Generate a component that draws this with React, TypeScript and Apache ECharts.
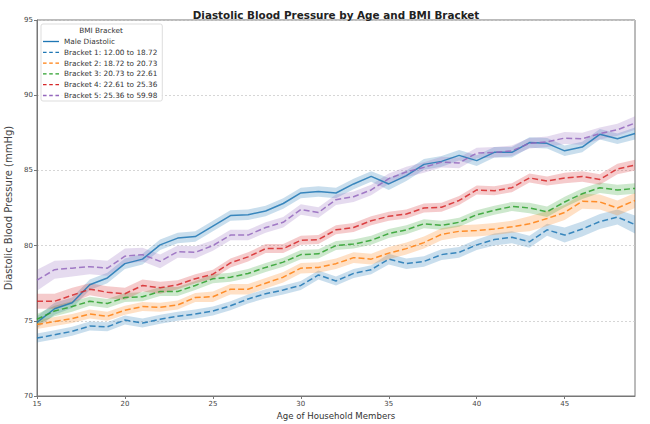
import React, { useEffect, useRef } from "react";
import * as echarts from "echarts";

const ages = [15,16,17,18,19,20,21,22,23,24,25,26,27,28,29,30,31,32,33,34,35,36,37,38,39,40,41,42,43,44,45,46,47,48,49];

const seriesNames = [
  "Male Diastolic",
  "Bracket 1: 12.00 to 18.72",
  "Bracket 2: 18.72 to 20.73",
  "Bracket 3: 20.73 to 22.61",
  "Bracket 4: 22.61 to 25.36",
  "Bracket 5: 25.36 to 59.98",
];

const male = [74.9,75.8,76.2,77.4,77.85,78.8,79.1,80.05,80.5,80.6,81.3,82.0,82.05,82.3,82.8,83.5,83.6,83.5,84.1,84.6,84.1,84.65,85.4,85.6,86.0,85.65,86.2,86.2,86.85,86.8,86.3,86.55,87.4,87.1,87.45];
const bracket1 = [73.85,74.07,74.3,74.65,74.6,75.05,74.85,75.1,75.3,75.45,75.65,76.0,76.45,76.8,77.05,77.35,78.05,77.65,78.15,78.4,79.1,78.8,78.95,79.4,79.55,80.05,80.4,80.55,80.25,81.05,80.7,81.1,81.6,81.9,81.4];
const bracket2 = [74.75,74.95,75.15,75.45,75.3,75.7,75.95,75.9,76.05,76.55,76.6,77.1,77.1,77.5,77.9,78.5,78.55,78.8,79.2,79.1,79.5,79.8,80.2,80.75,80.95,81.0,81.1,81.25,81.45,81.8,82.2,82.95,82.9,82.5,83.0];
const bracket3 = [75.1,75.65,75.95,76.3,76.15,76.55,76.6,76.95,76.95,77.35,77.8,77.9,78.15,78.55,78.9,79.4,79.45,80.0,80.1,80.35,80.8,81.05,81.45,81.35,81.55,82.05,82.35,82.6,82.5,82.25,82.9,83.45,83.85,83.7,83.8];
const bracket4 = [76.3,76.3,76.7,77.1,76.9,76.8,77.35,77.2,77.4,77.8,78.1,78.85,79.25,79.8,79.8,80.35,80.4,81.05,81.2,81.65,81.95,82.1,82.5,82.55,83.0,83.7,83.65,83.85,84.5,84.3,84.5,84.6,84.4,85.1,85.35];
const bracket5 = [77.7,78.4,78.5,78.6,78.5,79.3,79.4,78.95,79.6,79.55,80.0,80.7,80.7,81.2,81.55,82.4,82.2,83.05,83.25,83.7,84.45,84.9,85.2,85.55,85.5,86.15,86.2,86.3,86.8,86.9,87.15,87.1,87.45,87.7,88.15];

// half-widths of the shaded confidence bands
const maleCI = [0.4,0.4,0.35,0.35,0.35,0.35,0.35,0.35,0.35,0.35,0.35,0.35,0.35,0.35,0.35,0.35,0.35,0.35,0.35,0.35,0.4,0.35,0.35,0.35,0.35,0.35,0.35,0.35,0.35,0.35,0.35,0.35,0.35,0.35,0.4];
const bracket1CI = [0.3,0.3,0.3,0.3,0.3,0.3,0.3,0.3,0.3,0.3,0.3,0.3,0.3,0.3,0.3,0.3,0.3,0.3,0.3,0.3,0.35,0.35,0.35,0.35,0.35,0.35,0.4,0.4,0.4,0.4,0.5,0.5,0.5,0.5,0.6];
const bracket2CI = [0.3,0.3,0.3,0.3,0.3,0.3,0.3,0.3,0.3,0.3,0.35,0.35,0.35,0.35,0.35,0.35,0.35,0.35,0.35,0.35,0.4,0.4,0.4,0.4,0.4,0.4,0.4,0.4,0.5,0.5,0.5,0.5,0.5,0.5,0.5];
const bracket3CI = [0.35,0.35,0.35,0.3,0.3,0.3,0.3,0.3,0.3,0.3,0.3,0.3,0.3,0.3,0.3,0.3,0.3,0.3,0.3,0.3,0.3,0.3,0.3,0.3,0.3,0.3,0.3,0.3,0.35,0.35,0.35,0.35,0.35,0.35,0.35];
const bracket4CI = [0.5,0.5,0.5,0.4,0.4,0.4,0.4,0.4,0.3,0.3,0.3,0.3,0.3,0.3,0.3,0.3,0.3,0.3,0.3,0.3,0.3,0.3,0.3,0.3,0.3,0.3,0.3,0.3,0.3,0.3,0.35,0.35,0.35,0.35,0.35];
const bracket5CI = [0.7,0.6,0.55,0.5,0.5,0.5,0.45,0.45,0.4,0.4,0.35,0.35,0.35,0.35,0.35,0.35,0.35,0.35,0.35,0.35,0.35,0.35,0.35,0.35,0.35,0.35,0.35,0.35,0.35,0.35,0.4,0.4,0.4,0.4,0.45];

const yTicks = [70, 75, 80, 85, 90, 95];
const xTicks = [15, 20, 25, 30, 35, 40, 45];

const colors = ["#1f77b4", "#1f77b4", "#ff7f0e", "#2ca02c", "#d62728", "#9467bd"];
const lineTypes = ["solid", "dashed", "dashed", "dashed", "dashed", "dashed"];

const SOLID_ICON = "path://M0,0h18v1.5h-18z";
const DASH_ICON = "path://M0,0h4v1.5h-4z M7,0h4v1.5h-4z M14,0h4v1.5h-4z";

export default function App() {
  const ref = useRef<HTMLDivElement>(null);
  useEffect(() => {
    if (!ref.current) return;
    const chart = echarts.init(ref.current, null, { renderer: "svg" });
    const values = [male, bracket1, bracket2, bracket3, bracket4, bracket5];
    const cis = [maleCI, bracket1CI, bracket2CI, bracket3CI, bracket4CI, bracket5CI];
    const font = "DejaVu Sans";

    const bandSeries: any[] = [];
    const lineSeries: any[] = [];
    values.forEach((vals, i) => {
      const ci = cis[i];
      const upper = ages.map((a, k) => [a, vals[k] + ci[k]]);
      const lower = ages.map((a, k) => [a, vals[k] - ci[k]]);
      bandSeries.push({
        type: "custom",
        name: "band-" + i,
        data: [[ages[0], vals[0]]],
        silent: true,
        clip: true,
        z: 1,
        renderItem: (_params: any, api: any) => {
          const pts = [
            ...upper.map((p) => api.coord(p)),
            ...lower.slice().reverse().map((p) => api.coord(p)),
          ];
          return {
            type: "polygon",
            shape: { points: pts },
            style: { fill: colors[i], opacity: 0.24 },
            silent: true,
          };
        },
      });
      lineSeries.push({
        type: "line",
        name: seriesNames[i],
        data: ages.map((a, k) => [a, vals[k]]),
        showSymbol: false,
        symbol: "none",
        lineStyle: { color: colors[i], width: 1.5, type: lineTypes[i], opacity: 0.85 },
        itemStyle: { color: colors[i] },
        z: 3,
      });
    });

    chart.setOption({
      animation: false,
      backgroundColor: "#ffffff",
      title: {
        text: "Diastolic Blood Pressure by Age and BMI Bracket",
        left: 331,
        top: 5,
        textAlign: "center",
        textStyle: { fontFamily: font, fontSize: 10.4, fontWeight: "bold", color: "#222" },
      },
      grid: {
        left: 37,
        right: 15,
        top: 20,
        bottom: 28,
        show: true,
        borderColor: "#777",
        borderWidth: 1,
        backgroundColor: "transparent",
        outerBoundsMode: "none",
        containLabel: false,
      },
      legend: {
        data: seriesNames.map((n, i) => ({ name: n, icon: i === 0 ? SOLID_ICON : DASH_ICON })),
        orient: "vertical",
        left: 41,
        top: 24,
        padding: [14, 5, 2, 2],
        itemWidth: 16,
        itemHeight: 7,
        itemGap: 3.8,
        backgroundColor: "rgba(255,255,255,0.85)",
        borderColor: "#ddd",
        borderWidth: 1,
        borderRadius: 2,
        textStyle: { fontFamily: font, fontSize: 7.3, color: "#333", padding: [0, 0, 0, 0] },
        inactiveColor: "#ccc",
      },
      graphic: [
        {
          type: "text",
          x: 101,
          y: 30,
          style: {
            text: "BMI Bracket",
            fontFamily: font,
            fontSize: 7.3,
            fill: "#333",
            align: "center",
            verticalAlign: "middle",
          },
          z: 100,
        },
      ],
      xAxis: {
        type: "value",
        min: 15,
        max: 49,
        interval: 5,
        name: "Age of Household Members",
        nameLocation: "middle",
        nameGap: 12,
        nameTextStyle: { fontFamily: font, fontSize: 8.6, color: "#333" },
        axisLine: { show: true, lineStyle: { color: "#777", width: 1 } },
        axisTick: { show: true, length: 3, lineStyle: { color: "#777" }, customValues: xTicks },
        axisLabel: { fontFamily: font, fontSize: 7, color: "#444", margin: 4, customValues: xTicks },
        splitLine: { show: false },
      },
      yAxis: {
        type: "value",
        min: 70,
        max: 95,
        interval: 5,
        name: "Diastolic Blood Pressure (mmHg)",
        nameLocation: "middle",
        nameGap: 15,
        nameTextStyle: { fontFamily: font, fontSize: 10, color: "#444" },
        axisLine: { show: true, lineStyle: { color: "#777", width: 1 } },
        axisTick: { show: true, length: 3, lineStyle: { color: "#777" }, customValues: yTicks },
        axisLabel: { fontFamily: font, fontSize: 7, color: "#444", margin: 4, customValues: yTicks },
        splitLine: { show: true, lineStyle: { color: "#ccc", type: [2, 2], width: 0.8 } },
      },
      series: [...bandSeries, ...lineSeries],
    });
    return () => chart.dispose();
  }, []);
  return <div ref={ref} style={{ width: 650, height: 424, position: "absolute", left: 0, top: 0 }} />;
}
